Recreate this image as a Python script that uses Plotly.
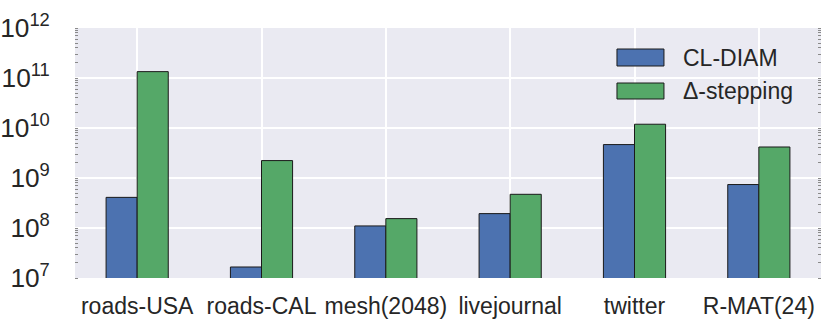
import plotly.graph_objects as go

# Workloads on the x axis
datasets = ["roads-USA", "roads-CAL", "mesh(2048)", "livejournal", "twitter", "R-MAT(24)"]

# Values per algorithm (log scale)
cl_diam = [4.1e8, 1.66e7, 1.1e8, 1.94e8, 4.66e9, 7.4e8]
delta_stepping = [1.34e11, 2.23e9, 1.54e8, 4.72e8, 1.19e10, 4.17e9]

series_names = ["CL-DIAM", "Δ-stepping"]
colors = ["#4C72B0", "#55A868"]

FONT = "Liberation Sans, Arial, sans-serif"
TEXT = "#262626"

fig = go.Figure()
for name, vals, col in zip(series_names, [cl_diam, delta_stepping], colors):
    fig.add_trace(go.Bar(
        x=datasets, y=vals, name=name,
        marker=dict(color=col, line=dict(color="#1a1a1a", width=1)),
        showlegend=False,
    ))

fig.update_layout(
    width=822, height=320,
    margin=dict(l=75, r=1, t=28, b=42),
    paper_bgcolor="white",
    plot_bgcolor="#EAEAF2",
    barmode="group",
    bargap=0.5,
    bargroupgap=0,
    font=dict(family=FONT, size=22, color=TEXT),
)

fig.update_xaxes(
    showgrid=True, gridcolor="white", gridwidth=2,
    showline=False, zeroline=False,
    ticks="outside", ticklen=7, tickcolor="rgba(0,0,0,0)",
    tickfont=dict(size=23, color=TEXT),
)

fig.update_yaxes(
    type="log", range=[7, 12], dtick=1,
    exponentformat="power",
    showgrid=True, gridcolor="white", gridwidth=2,
    showline=False, zeroline=False,
    ticks="outside", ticklen=20, tickcolor="rgba(0,0,0,0)",
    tickfont=dict(size=21, color=TEXT),
    minor=dict(ticks="inside", ticklen=3, tickcolor="#8a8a8a", tickwidth=1,
               dtick="D1", showgrid=False),
    mirror="ticks",
)

# Legend drawn as swatches plus labels in the upper right of the plot
swatch_x0, swatch_x1 = 0.7265, 0.7895
label_x = 0.812
rows_y = [(0.848, 0.916), (0.716, 0.78)]
for (y0, y1), name, col in zip(rows_y, series_names, colors):
    fig.add_shape(type="rect", xref="paper", yref="paper",
                  x0=swatch_x0, x1=swatch_x1, y0=y0, y1=y1,
                  fillcolor=col, line=dict(color="#1a1a1a", width=1))
    fig.add_annotation(xref="paper", yref="paper", x=label_x, y=(y0 + y1) / 2,
                       text=name, showarrow=False, xanchor="left", yanchor="middle",
                       font=dict(family=FONT, size=23, color=TEXT))

fig.write_html("out.html")
